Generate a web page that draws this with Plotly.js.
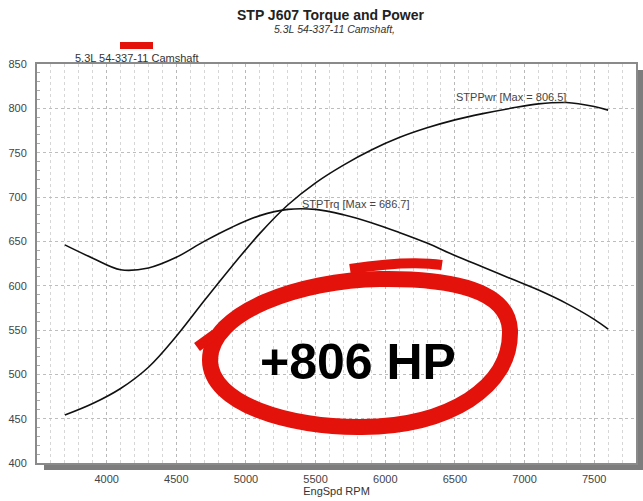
<!DOCTYPE html>
<html>
<head>
<meta charset="utf-8">
<script src="https://cdn.plot.ly/plotly-3.0.1.min.js"></script>
<style>
html,body{margin:0;padding:0;background:#fff;}
#chart{width:643px;height:501px;}
</style>
</head>
<body>
<div id="chart"></div>
<script>
// ---- data ----
const trqRpm = [3700,3900,4100,4300,4500,4700,4900,5100,5300,5500,5700,5900,6100,6300,6500,6700,6900,7100,7300,7500,7600];
const trqVal = [646,631,618,620,632,650,666,679,686,686,680,671,660,648,634,621,608,595,580,562,551];

const pwrRpm = [3700,3900,4100,4300,4500,4700,4900,5100,5300,5500,5700,5900,6100,6300,6500,6700,6900,7100,7300,7500,7600];
const pwrVal = [454,467,484,508,543,583,622,659,691,716,736,753,767,778,787,794,800,805,806.5,802,798];

const xTicks = [4000,4500,5000,5500,6000,6500,7000,7500];
const xRange = [3500,7800];
const yRange = [400,850];

const titleText = "STP J607 Torque and Power";
const subtitleText = "5.3L 54-337-11 Camshaft,";
const legendText = "5.3L 54-337-11 Camshaft";
const trqLabel = "STPTrq [Max = 686.7]";
const pwrLabel = "STPPwr [Max = 806.5]";
const bigText = "+806 HP";

// ---- layout helpers (pixel -> paper) ----
const W = 643, H = 501;
const L = 37, R = 636, T = 64, B = 463;
const px = x => (x - L) / (R - L);
const py = y => (B - y) / (B - T);
function path(cmds){
  return cmds.map(c => c[0] + ' ' + c.slice(1).reduce((a,v,i)=>{
    a.push(i%2===0 ? px(v).toFixed(4) : py(v).toFixed(4)); return a;},[]).join(' ')).join(' ');
}

const red = '#e3120b';
const font = "Liberation Sans, Arial, Helvetica, sans-serif";

const traces = [
  {x: trqRpm, y: trqVal, type:'scatter', mode:'lines', line:{color:'#111', width:1.6, shape:'spline', smoothing:1}, hoverinfo:'skip', showlegend:false},
  {x: pwrRpm, y: pwrVal, type:'scatter', mode:'lines', line:{color:'#111', width:1.6, shape:'spline', smoothing:1}, hoverinfo:'skip', showlegend:false}
];

const ring = path([
  ['M',210,360],
  ['C',210,404, 290,428, 362,427],
  ['C',448,426, 512,388, 510,330],
  ['C',508,290, 452,278, 380,279],
  ['C',300,280, 210,312, 210,360]
]);
const tail = path([['M',350,269],['C',390,263, 420,262, 442,265]]);
const notch = path([['M',197,347],['L',215,334]]);

const layout = {
  width: W, height: H,
  margin: {l: L, r: W - R, t: T, b: H - B, pad: 0},
  paper_bgcolor: '#fff',
  plot_bgcolor: 'rgba(0,0,0,0)',
  font: {family: font, size: 11, color: '#444'},
  xaxis: {
    range: xRange, tickvals: xTicks, ticks: '', ticklabelstandoff: 5,
    showgrid: true, gridcolor: '#b8b8b8', griddash: 'dot', gridwidth: 1,
    minor: {dtick: 100, tick0: 3500, showgrid: true, gridcolor: '#d6d6d6', griddash: 'dot', gridwidth: 1},
    showline: true, linecolor: '#8a8a8a', linewidth: 2, mirror: true,
    zeroline: false, fixedrange: true,
    tickfont: {family: font, size: 11, color: '#444'},
    title: {text: 'EngSpd RPM', standoff: 2, font: {family: font, size: 11, color: '#333'}}
  },
  yaxis: {
    range: yRange, dtick: 50, tick0: 400, ticks: '', ticklabelstandoff: 6,
    showgrid: true, gridcolor: '#bdbdbd', griddash: 'dot', gridwidth: 1,
    minor: {dtick: 10, ticks: 'inside', ticklen: 3, tickcolor: '#aaa', showgrid: false},
    showline: true, linecolor: '#8a8a8a', linewidth: 2, mirror: true,
    zeroline: false, fixedrange: true,
    tickfont: {family: font, size: 11, color: '#444'}
  },
  shapes: [
    {type:'rect', xref:'paper', yref:'paper', x0: px(L+7), x1: px(R+7), y0: py(B+7), y1: py(T+6), fillcolor:'#7d7d7d', line:{width:0}, layer:'below'},
    {type:'rect', xref:'paper', yref:'paper', x0: 0, x1: 1, y0: 0, y1: 1, fillcolor:'#ffffff', line:{width:0}, layer:'below'},
    {type:'rect', xref:'paper', yref:'paper', x0: px(120), x1: px(153), y0: py(49), y1: py(42), fillcolor: red, line:{width:0}},
    {type:'path', xref:'paper', yref:'paper', path: ring, line:{color: red, width: 16}, fillcolor:'rgba(0,0,0,0)'},
    {type:'path', xref:'paper', yref:'paper', path: tail, line:{color: red, width: 10}},
    {type:'path', xref:'paper', yref:'paper', path: notch, line:{color: red, width: 10}}
  ],
  annotations: [
    {xref:'paper', yref:'paper', x: px(331), y: py(15), text: '<b>' + titleText + '</b>', showarrow:false, xanchor:'center', yanchor:'middle', font:{family: font, size: 14, color:'#222'}},
    {xref:'paper', yref:'paper', x: px(334), y: py(29), text: '<i>' + subtitleText + '</i>', showarrow:false, xanchor:'center', yanchor:'middle', font:{family: font, size: 10.5, color:'#333'}},
    {xref:'paper', yref:'paper', x: px(73), y: py(58), text: legendText, showarrow:false, xanchor:'left', yanchor:'middle', font:{family: font, size: 11, color:'#333'}},
    {xref:'x', yref:'y', x: 5385, y: 692, text: trqLabel, showarrow:false, xanchor:'left', yanchor:'middle', font:{family: font, size: 11, color:'#444'}},
    {xref:'x', yref:'y', x: 6496, y: 813, text: pwrLabel, showarrow:false, xanchor:'left', yanchor:'middle', font:{family: font, size: 11, color:'#444'}},
    {xref:'paper', yref:'paper', x: px(358), y: py(362), text: '<b>' + bigText + '</b>', showarrow:false, xanchor:'center', yanchor:'middle', font:{family: font, size: 50, color:'#000'}}
  ]
};

Plotly.newPlot('chart', traces, layout, {staticPlot: true, displayModeBar: false});
</script>
</body>
</html>
